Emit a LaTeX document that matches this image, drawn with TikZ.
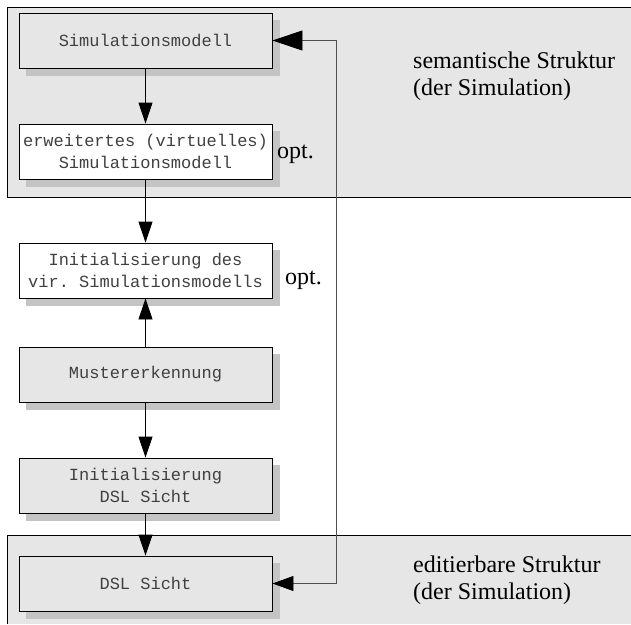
\documentclass[tikz,border=0pt]{standalone}
\usepackage{fontspec}
\setmainfont{Liberation Serif}
\setmonofont{Liberation Mono}
\usetikzlibrary{arrows.meta}
\definecolor{regiongray}{HTML}{E6E6E6}
\definecolor{shadowgray}{HTML}{C4C4C4}
\definecolor{linegray}{HTML}{505050}
\tikzset{
  region/.style={draw=black, fill=regiongray, line width=0.9pt},
  box/.style={draw=black, line width=0.9pt, minimum width=253pt, minimum height=55pt,
    inner sep=0pt, align=center, text=black!75,
    font=\ttfamily\fontsize{17}{22}\selectfont},
  graybox/.style={box, fill=regiongray},
  whitebox/.style={box, fill=white},
  shadowfill/.style={fill=shadowgray},
  label/.style={font=\fontsize{24}{27}\selectfont, align=left, inner sep=0pt, anchor=west},
  optlabel/.style={font=\fontsize{24}{25}\selectfont, inner sep=0pt, anchor=base west},
  flow/.style={draw=black, line width=0.9pt, -{Triangle[length=21pt,width=14pt,color=black]}},
}
\begin{document}
\begin{tikzpicture}[x=1pt,y=-1pt]
\useasboundingbox (0,0) rectangle (631,624);
\fill[white] (0,0) rectangle (631,624);
\fill[regiongray] (7,7) rectangle (631,197);
\draw[black, line width=0.9pt] (631,7) -- (7,7) -- (7,197) -- (631,197);
\fill[regiongray] (7,535) rectangle (631,624);
\draw[black, line width=0.9pt] (631,535) -- (7,535) -- (7,624);

\fill[shadowfill] (26,20) rectangle (280,76);
\fill[shadowfill] (26,131) rectangle (280,187);
\fill[shadowfill] (26,250) rectangle (280,306);
\fill[shadowfill] (26,354) rectangle (280,410);
\fill[shadowfill] (26,465) rectangle (280,521);
\fill[shadowfill] (26,563) rectangle (280,619);

\node[graybox]  (sim)    at (145.5,40.5)  {Simulationsmodell};
\node[whitebox] (erw)    at (145.5,151.5) {erweitertes (virtuelles)\\Simulationsmodell};
\node[whitebox] (init)   at (145.5,270.5) {Initialisierung des\\vir. Simulationsmodells};
\node[graybox]  (muster) at (145.5,374.5) {Mustererkennung};
\node[graybox]  (idsl)   at (145.5,485.5) {Initialisierung\\DSL Sicht};
\node[graybox]  (dsl)    at (145.5,583.5) {DSL Sicht};

\node[label] (sem) at (413,76) {semantische Struktur\\(der Simulation)};
\node[label] (edi) at (413,580) {editierbare Struktur\\(der Simulation)};
\node[optlabel] (opt1) at (277,158) {opt.};
\node[optlabel] (opt2) at (285,284) {opt.};

\coordinate (c1) at (336,40.5);
\coordinate (c2) at (336,583.5);

\draw[flow] (sim) -- (erw);
\draw[flow] (erw) -- (init);
\draw[flow] (muster) -- (init);
\draw[flow] (muster) -- (idsl);
\draw[flow] (idsl) -- (dsl);
\draw[draw=linegray, line width=0.9pt,
  {Triangle[length=30pt,width=20pt,color=black]}-{Triangle[length=21pt,width=15pt,color=black]}]
  (sim.east) -- (c1) -- (c2) -- (dsl.east);
\end{tikzpicture}
\end{document}
